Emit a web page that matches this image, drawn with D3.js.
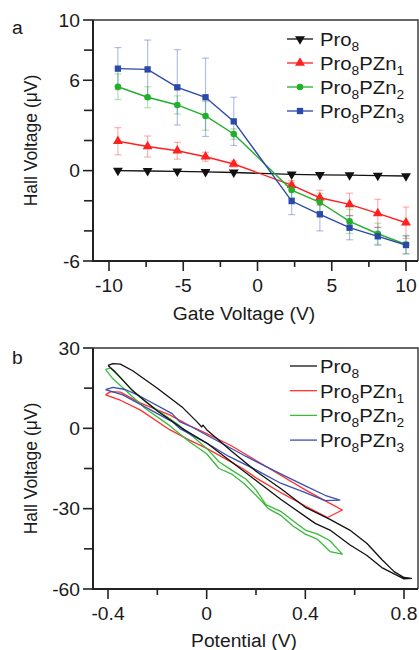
<!DOCTYPE html>
<html><head><meta charset="utf-8">
<script src="https://cdn.jsdelivr.net/npm/d3@7"></script>
<style>body{margin:0;background:#fff}svg{display:block}</style>
</head><body>
<svg id="c" width="419" height="650"></svg>
<script>
// ---------- Panel a data ----------
const gateVoltage = [-9.4, -7.4, -5.4, -3.5, -1.6, 2.3, 4.2, 6.2, 8.1, 10];
const pro8Hall    = [0, -0.02, -0.05, -0.08, -0.12, -0.25, -0.28, -0.3, -0.33, -0.36];
const pzn1Hall    = [1.95, 1.6, 1.32, 0.92, 0.44, -0.96, -1.8, -2.24, -2.84, -3.46];
const pzn1Err     = [0.9, 0.7, 0.56, 0.3, 0.2, 0.3, 0.5, 0.74, 0.94, 1.04];
const pzn2Hall    = [5.57, 4.87, 4.36, 3.63, 2.43, -1.29, -2.1, -3.37, -4.19, -4.9];
const pzn2Err     = [0.85, 0.7, 0.6, 0.95, 0.35, 0.5, 0.6, 0.8, 0.7, 0.6];
const pzn3Hall    = [6.77, 6.72, 5.53, 4.87, 3.27, -2.02, -2.9, -3.79, -4.36, -4.94];
const pzn3Err     = [1.4, 1.95, 2.5, 2.6, 1.6, 0.9, 1.1, 0.8, 0.6, 0.6];
const gateTicks   = [-10, -5, 0, 5, 10];
const gateMinor   = [-7.5, -2.5, 2.5, 7.5];
const hallTicksA  = [-6, 0, 6, 10];
const hallMinorA  = [-4, -2, 2, 4, 8];

// ---------- Panel b data (hysteresis loops) ----------
const pro8Pot  = [-0.40,-0.38,-0.35,-0.3,-0.2,-0.1,-0.04,-0.02,-0.015,0,0.1,0.2,0.3,0.4,0.5,0.58,0.65,0.71,0.76,0.8,0.83,
                  0.8,0.71,0.65,0.58,0.5,0.44,0.3,0.2,0.1,0,-0.1,-0.2,-0.3,-0.37,-0.40];
const pro8HallB= [23.5,24.2,24,21.5,15,8,2.5,0.5,1.2,-0.5,-8.5,-16,-22.5,-29.5,-34,-38,-43,-49,-53.5,-55.7,-56,
                  -56.2,-52,-47.5,-43.5,-38,-35.5,-26.5,-19.5,-12.5,-5.5,0,6.5,14,21,23.5];
const pzn1Pot  = [-0.41,-0.39,-0.35,-0.27,-0.15,-0.07,0,0.1,0.2,0.3,0.4,0.5,0.55,0.49,0.4,0.31,0.2,0.146,0,-0.07,-0.15,-0.27,-0.35,-0.41];
const pzn1HallB= [12.5,13.7,13.5,9.5,5,1,-2,-6.5,-12,-17.5,-23,-28,-30.5,-33.3,-29,-24.5,-18.5,-15,-7.5,-4.4,-0.5,6.9,10.5,12.5];
const pzn2Pot  = [-0.41,-0.39,-0.35,-0.31,-0.25,-0.18,-0.11,-0.05,0,0.05,0.1,0.16,0.2,0.24,0.3,0.35,0.4,0.45,0.5,0.53,0.55,
                  0.5,0.45,0.4,0.35,0.3,0.25,0.2,0.15,0.1,0.05,0,-0.07,-0.15,-0.25,-0.32,-0.38,-0.41];
const pzn2HallB= [22,22.5,19,15,10,5.5,1,-3.5,-7.5,-12.5,-15.5,-19,-23,-28.5,-31,-34.5,-38,-39.5,-42,-45,-47,
                  -46,-41.5,-39.5,-36.5,-32.5,-30,-25,-20.5,-17,-15,-9.5,-5,1,7.5,13.5,18.5,22];
const pzn3Pot  = [-0.41,-0.38,-0.33,-0.27,-0.14,-0.11,-0.06,0.02,0.16,0.3,0.4,0.48,0.54,0.48,0.4,0.3,0.2,0.09,0,-0.11,-0.14,-0.25,-0.34,-0.41];
const pzn3HallB= [14.5,15.3,14.5,12,5.5,2.5,0.5,-3.5,-10.5,-17,-21.5,-25,-26.8,-27,-24,-20.5,-15.5,-10.5,-5.5,0,2.5,8,12.5,14.5];
const potTicks   = [-0.4, 0, 0.4, 0.8];
const potMinor   = [-0.2, 0.2, 0.6];
const hallTicksB = [-60, -30, 0, 30];
const hallMinorB = [-45, -15, 15];

const names = [[["Pro",0],["8",1]],[["Pro",0],["8",1],["PZn",0],["1",1]],[["Pro",0],["8",1],["PZn",0],["2",1]],[["Pro",0],["8",1],["PZn",0],["3",1]]];
const colorsA = ["#111111", "#ff2020", "#22b02a", "#2a4aa8"];
const colorsB = ["#111111", "#ff3030", "#3cba3c", "#3a50b4"];

const SX = 1.07, FS = 18, TXT = "#1a1a1a";
const svg = d3.select("#c");
const hy = s => s.replace("\u2212", "-");

function txt(parent, x, y, parts, anchor, rot, fs) {
  fs = fs || FS;
  const t = parent.append("text")
    .attr("transform", `translate(${x},${y}) scale(${SX},1)` + (rot ? " rotate(-90)" : ""))
    .attr("text-anchor", anchor || "start")
    .attr("font-family", "Liberation Sans, Arial, sans-serif")
    .attr("font-size", fs).attr("fill", TXT);
  if (typeof parts === "string") { t.text(parts); return t; }
  let sub = false;
  parts.forEach(([s, isSub]) => {
    const ts = t.append("tspan").text(s);
    if (isSub && !sub) { ts.attr("dy", 5).attr("font-size", fs * 0.68); sub = true; }
    else if (!isSub && sub) { ts.attr("dy", -5); sub = false; }
    else if (isSub) ts.attr("font-size", fs * 0.68);
  });
  return t;
}

function frame(g, L, R, T, B) {
  g.append("path").attr("d", `M${L},${T}H${R}V${B}`).attr("fill","none").attr("stroke","#333").attr("stroke-width",1.4);
  g.append("path").attr("d", `M${L},${T}V${B}H${R}`).attr("fill","none").attr("stroke","#222").attr("stroke-width",2);
}

function axes(g, x, y, L, R, T, B, xt, xm, yt, ym, fmtX, fmtY) {
  const tick = (x1,y1,x2,y2) => g.append("line").attr("x1",x1).attr("y1",y1).attr("x2",x2).attr("y2",y2).attr("stroke","#222").attr("stroke-width",1.6);
  xt.forEach(v => { tick(x(v), B, x(v), B + 10); txt(g, x(v), B + 31, hy(fmtX(v)), "middle"); });
  xm.forEach(v => tick(x(v), B, x(v), B + 6));
  yt.forEach(v => { tick(L - 10, y(v), L, y(v)); txt(g, L - 13, y(v) + 6.5, hy(fmtY(v)), "end"); });
  ym.forEach(v => tick(L - 9, y(v), L, y(v)));
}

// ---------- Panel a ----------
const A = {L: 93, R: 418, T: 20, B: 261};
const xa = d3.scaleLinear().domain([-10, 10]).range([109, 406]);
const ya = d3.scaleLinear().domain([-6, 10]).range([A.B, A.T]);
const ga = svg.append("g");
frame(ga, A.L, A.R, A.T, A.B);
axes(ga, xa, ya, A.L, A.R, A.T, A.B, gateTicks, gateMinor, hallTicksA, hallMinorA, d3.format("d"), d3.format("d"));
txt(ga, 12, 34, "a", "start");
txt(ga, 244, 320, "Gate Voltage (V)", "middle");
txt(ga, 37, (A.T + A.B) / 2, "Hall Voltage (\u03bcV)", "middle", true, 17.5);

const seriesA = [
  {v: pro8Hall, e: null, sym: "down"},
  {v: pzn1Hall, e: pzn1Err, sym: "up"},
  {v: pzn2Hall, e: pzn2Err, sym: "circle"},
  {v: pzn3Hall, e: pzn3Err, sym: "square"}
];
function marker(g, cx, cy, sym, color) {
  let s;
  if (sym === "circle") s = d3.symbol(d3.symbolCircle, 34);
  else if (sym === "square") s = d3.symbol(d3.symbolSquare, 40);
  else s = d3.symbol(d3.symbolTriangle, 42);
  g.append("path").attr("d", s()).attr("fill", color)
    .attr("transform", `translate(${cx},${cy})` + (sym === "down" ? " rotate(180)" : ""));
}
seriesA.forEach((s, i) => {
  if (!s.e) return;
  const eg = ga.append("g").attr("stroke", colorsA[i]).attr("stroke-opacity", 0.35).attr("stroke-width", 1.2);
  gateVoltage.forEach((gv, j) => {
    const cx = xa(gv), y1 = ya(s.v[j] + s.e[j]), y2 = ya(s.v[j] - s.e[j]);
    eg.append("line").attr("x1", cx).attr("x2", cx).attr("y1", y1).attr("y2", y2);
    eg.append("line").attr("x1", cx - 3.5).attr("x2", cx + 3.5).attr("y1", y1).attr("y2", y1);
    eg.append("line").attr("x1", cx - 3.5).attr("x2", cx + 3.5).attr("y1", y2).attr("y2", y2);
  });
});
const lineA = d3.line().x(d => xa(d[0])).y(d => ya(d[1]));
seriesA.forEach((s, i) => {
  const pts = gateVoltage.map((gv, j) => [gv, s.v[j]]);
  ga.append("path").attr("d", lineA(pts)).attr("fill", "none").attr("stroke", colorsA[i]).attr("stroke-width", 1.4);
  pts.forEach(p => marker(ga, xa(p[0]), ya(p[1]), s.sym, colorsA[i]));
});
names.forEach((nm, i) => {
  const yy = 39 + i * 24;
  ga.append("line").attr("x1", 287).attr("x2", 313).attr("y1", yy).attr("y2", yy).attr("stroke", colorsA[i]).attr("stroke-width", 1.3);
  marker(ga, 300, yy, seriesA[i].sym, colorsA[i]);
  txt(ga, 320, yy + 7, nm, "start", false, 19);
});

// ---------- Panel b ----------
const B = {L: 93, R: 418, T: 348, B: 589};
const xb = d3.scaleLinear().domain([-0.4, 0.8]).range([108, 404]);
const yb = d3.scaleLinear().domain([-60, 30]).range([B.B, B.T]);
const gb = svg.append("g");
frame(gb, B.L, B.R, B.T, B.B);
axes(gb, xb, yb, B.L, B.R, B.T, B.B, potTicks, potMinor, hallTicksB, hallMinorB, v => v === 0 ? "0" : d3.format(".1f")(v), d3.format("d"));
txt(gb, 12, 364, "b", "start");
txt(gb, 244, 647, "Potential (V)", "middle");
txt(gb, 37, (B.T + B.B) / 2, "Hall Voltage (\u03bcV)", "middle", true, 17.5);

const loops = [[pro8Pot, pro8HallB], [pzn1Pot, pzn1HallB], [pzn2Pot, pzn2HallB], [pzn3Pot, pzn3HallB]];
const lineB = d3.line().x(d => xb(d[0])).y(d => yb(d[1])).curve(d3.curveLinear);
[1, 2, 3, 0].forEach(i => {
  const [p, h] = loops[i];
  gb.append("path").attr("d", lineB(p.map((v, j) => [v, h[j]]))).attr("fill", "none")
    .attr("stroke", colorsB[i]).attr("stroke-width", 1.3).attr("stroke-linejoin", "round");
});
names.forEach((nm, i) => {
  const yy = 366 + i * 24.7;
  gb.append("line").attr("x1", 290).attr("x2", 317).attr("y1", yy).attr("y2", yy).attr("stroke", colorsB[i]).attr("stroke-width", 1.3);
  txt(gb, 320, yy + 7, nm, "start", false, 19);
});
</script>
</body></html>
